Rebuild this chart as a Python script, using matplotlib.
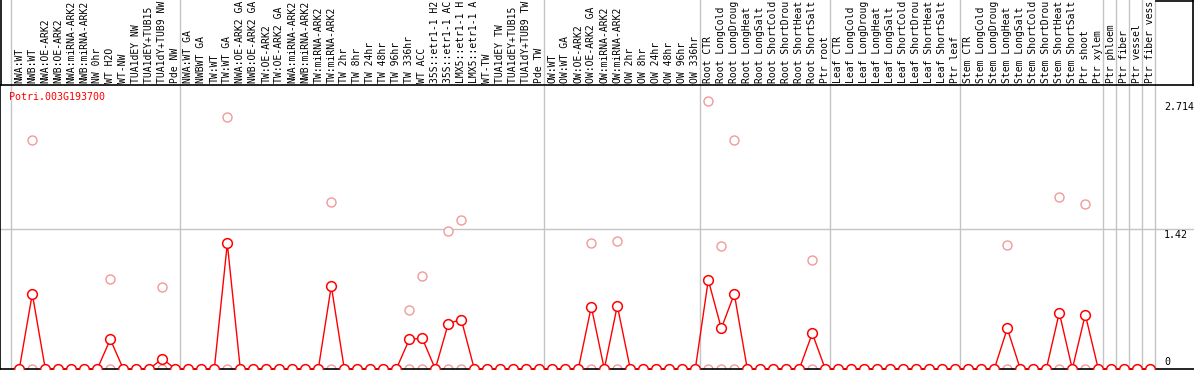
import matplotlib
matplotlib.use("Agg")
import matplotlib.pyplot as plt
from matplotlib.lines import Line2D
import numpy as np

# sample labels, one per column (the chart shows at most 14 characters)
labels = [
    "NWA:WT", "NWB:WT", "NWA:OE-ARK2", "NWB:OE-ARK2", "NWA:miRNA-ARK2", "NWB:miRNA-ARK2",
    "NW 0hr", "WT H2O", "WT-NW", "TUA1dEY NW", "TUA1dEY+TUB15 NW", "TUA1dY+TUB9 NW", "Pde NW",
    "NWA:WT GA", "NWBWT GA", "TW:WT", "TW:WT GA", "NWA:OE-ARK2 GA", "NWB:OE-ARK2 GA",
    "TW:OE-ARK2", "TW:OE-ARK2 GA", "NWA:miRNA-ARK2", "NWB:miRNA-ARK2", "TW:miRNA-ARK2",
    "TW:miRNA-ARK2", "TW 2hr", "TW 8hr", "TW 24hr", "TW 48hr", "TW 96hr", "TW 336hr",
    "WT ACC", "35S::etr1-1 H2O", "35S::etr1-1 ACC", "LMX5::etr1-1 H2O", "LMX5::etr1-1 ACC",
    "WT-TW", "TUA1dEY TW", "TUA1dEY+TUB15 TW", "TUA1dY+TUB9 TW", "Pde TW",
    "OW:WT", "OW:WT GA", "OW:OE-ARK2", "OW:OE-ARK2 GA", "OW:miRNA-ARK2", "OW:miRNA-ARK2",
    "OW 2hr", "OW 8hr", "OW 24hr", "OW 48hr", "OW 96hr", "OW 336hr",
    "Root CTR", "Root LongCold", "Root LongDrought", "Root LongHeat", "Root LongSalt",
    "Root ShortCold", "Root ShortDrought", "Root ShortHeat", "Root ShortSalt", "Ptr root",
    "Leaf CTR", "Leaf LongCold", "Leaf LongDrought", "Leaf LongHeat", "Leaf LongSalt",
    "Leaf ShortCold", "Leaf ShortDrought", "Leaf ShortHeat", "Leaf ShortSalt", "Ptr leaf",
    "Stem CTR", "Stem LongCold", "Stem LongDrought", "Stem LongHeat", "Stem LongSalt",
    "Stem ShortCold", "Stem ShortDrought", "Stem ShortHeat", "Stem ShortSalt", "Ptr shoot",
    "Ptr xylem", "Ptr phloem", "Ptr fiber", "Ptr vessel", "Ptr fiber vessel",
]

# mean expression per column
means = [
    0, 0.76, 0, 0, 0, 0, 0, 0.30, 0, 0, 0, 0.105, 0,
    0, 0, 0, 1.27, 0, 0, 0, 0, 0, 0, 0, 0.84, 0, 0, 0, 0, 0, 0.30,
    0.31, 0, 0.46, 0.50, 0, 0, 0, 0, 0, 0,
    0, 0, 0, 0.63, 0, 0.64, 0, 0, 0, 0, 0, 0,
    0.90, 0.41, 0.76, 0, 0, 0, 0, 0, 0.36, 0,
    0, 0, 0, 0, 0, 0, 0, 0, 0, 0,
    0, 0, 0, 0.41, 0, 0, 0, 0.57, 0, 0.55,
    0, 0, 0, 0, 0,
]

# replicate values (pale circles)
rep_cols = [1, 7, 11, 16, 24, 30, 31, 33, 34, 44, 46, 53, 54, 55, 61, 76, 80, 82]
rep_high = [2.32, 0.91, 0.83, 2.55, 1.69, 0.60, 0.94, 1.40, 1.51, 1.27, 1.29,
            2.714, 1.24, 2.32, 1.10, 1.25, 1.74, 1.67]
rep_low = [0] * len(rep_cols)

group_ends = [-1, 12, 40, 52, 62, 72, 83, 84, 85, 86, 87]
ytick_vals = [0, 1.42, 2.714]
gene = "Potri.003G193700"

W, H = 1194, 370
fig = plt.figure(figsize=(W / 100, H / 100), dpi=100)
top_px, bot_px = 85, 369
ax = fig.add_axes([0, 1 - bot_px / H, 1, (bot_px - top_px) / H])

x = np.arange(len(labels))
x0, step = 19.3, 13.0
ax.set_xlim(-x0 / step, (W - x0) / step)
ax.set_ylim(0, (bot_px - top_px) / 98.9)

mono = "DejaVu Sans Mono"
fs = 7.0
grey = "#c4c4c4"

for g in group_ends:
    ax.axvline(g + 0.37, ymin=0, ymax=1 + top_px / (bot_px - top_px) + 0.01,
               color=grey, lw=1, clip_on=False, zorder=1)
ax.axhline(1.42, color=grey, lw=1, zorder=1)

ax.plot(rep_cols, rep_low, "o", ms=6.5, mfc="white", mec="#f09a9a", mew=1, zorder=2, clip_on=False)
ax.plot(rep_cols, rep_high, "o", ms=6.5, mfc="white", mec="#f09a9a", mew=1, zorder=2, clip_on=False)
ax.plot(x, means, "-", color="red", lw=1, zorder=3, clip_on=False)
ax.plot(x, means, "o", ms=7, mfc="white", mec="red", mew=1.1, zorder=4, clip_on=False)

for i, lab in enumerate(labels):
    ax.annotate(lab[:14], xy=(i, 1), xycoords=("data", "axes fraction"),
                xytext=(0, 2), textcoords="offset pixels", rotation=90,
                ha="center", va="bottom", family=mono, fontsize=fs,
                annotation_clip=False)

for v in ytick_vals:
    if v == 0:
        ax.annotate("0", xy=(88.05, v), xytext=(0, 2), textcoords="offset pixels",
                    ha="left", va="bottom", family=mono, fontsize=7.2, annotation_clip=False)
    else:
        ax.annotate(f"{v:g}", xy=(88.05, v), xytext=(0, -1), textcoords="offset pixels",
                    ha="left", va="top", family=mono, fontsize=7.2, annotation_clip=False)

ax.annotate(gene, xy=(0, 1), xycoords="axes fraction", xytext=(9, -12),
            textcoords="offset pixels", ha="left", va="center", family=mono,
            fontsize=7.2, color="red")

ax.set_xticks([])
ax.set_yticks([])
ax.spines["right"].set_visible(False)
for s in ["left", "top", "bottom"]:
    ax.spines[s].set_color("black")
    ax.spines[s].set_linewidth(1.2)

# frame bits outside the axes
fig.add_artist(Line2D([0.6 / W, 0.6 / W], [1 - top_px / H, 1], color="black", lw=1.2))
fig.add_artist(Line2D([1156 / W, 1], [1 - 0.6 / H, 1 - 0.6 / H], color="black", lw=1.2))
fig.add_artist(Line2D([1 - 0.8 / W, 1 - 0.8 / W], [1 - top_px / H, 1], color="black", lw=1.2))

fig.savefig("out.png", dpi=100)
